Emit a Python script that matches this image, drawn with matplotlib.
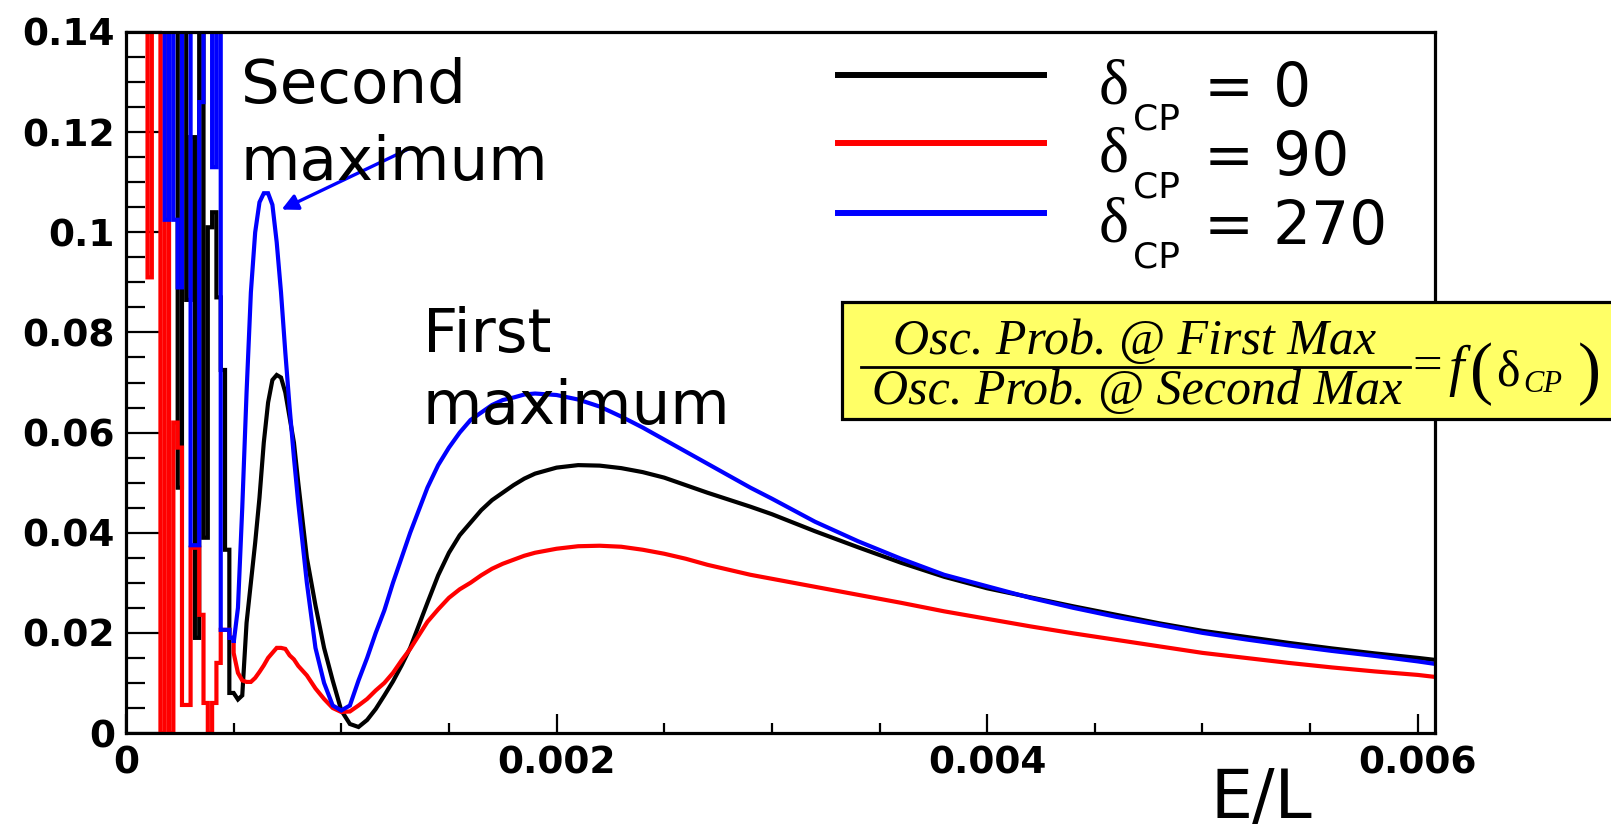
import numpy as np
import matplotlib
matplotlib.use("Agg")
import matplotlib.pyplot as plt
from matplotlib.patches import Rectangle
from matplotlib.lines import Line2D

# ---------------- data ----------------
# fast-oscillation region: histogram bins of width 2e-5 from 0 to 5e-4 (values > 0.14 are off-scale)
bin_width = 0.00002
n_osc_bins = 25
black_osc = [0.2, 0.2, 0.2, 0.2, 0.2, 0.2, 0.2, 0.2, 0.2, 0.2, 0.2, 0.2,
             0.049, 0.2, 0.0865, 0.119, 0.019, 0.2, 0.039, 0.101, 0.104, 0.087, 0.0725, 0.0366, 0.008]
red_osc = [0.2, 0.2, 0.2, 0.2, 0.2, 0.091, 0.2, 0.2, 0.0, 0.2, 0.0, 0.062, 0.057,
           0.0056, 0.0056, 0.037, 0.037, 0.0236, 0.006, 0.0, 0.006, 0.014, 0.0206, 0.0206, 0.019]
blue_osc = [0.2, 0.2, 0.2, 0.2, 0.2, 0.2, 0.2, 0.2, 0.2, 0.1025, 0.2, 0.1025, 0.089,
            0.2, 0.2, 0.0375, 0.0375, 0.126, 0.2, 0.2, 0.113, 0.2, 0.0206, 0.0206, 0.019]

# smooth region
el_smooth = [0.00050, 0.00052, 0.00054, 0.00056, 0.00058, 0.00060, 0.00062, 0.00064,
             0.00066, 0.00068, 0.00070, 0.00072, 0.00074, 0.00076, 0.00078, 0.00080,
             0.00084, 0.00088, 0.00092, 0.00096, 0.00100, 0.00104, 0.00108, 0.00112,
             0.00116, 0.00120, 0.00124, 0.00128, 0.00132, 0.00136, 0.00140, 0.00145,
             0.0015, 0.00155, 0.0016, 0.00165, 0.0017, 0.00175, 0.0018, 0.00185,
             0.0019, 0.0020, 0.0021, 0.0022,
             0.0023, 0.0024, 0.0025, 0.0026, 0.0027, 0.0028, 0.0029, 0.0030,
             0.0032, 0.0034, 0.0036, 0.0038, 0.0040, 0.0042, 0.0044, 0.0046,
             0.0048, 0.0050, 0.0052, 0.0054, 0.0056, 0.0058, 0.0060, 0.00608]
black_smooth = [0.008, 0.0067, 0.0075, 0.022, 0.030, 0.038, 0.047, 0.058,
                0.066, 0.0705, 0.0715, 0.071, 0.068, 0.063, 0.058, 0.050,
                0.035, 0.0255, 0.017, 0.0105, 0.0045, 0.0018, 0.0012, 0.0026,
                0.0048, 0.0075, 0.0103, 0.0135, 0.017, 0.0215, 0.026, 0.0315,
                0.036, 0.0395, 0.042, 0.0445, 0.0465, 0.048, 0.0495, 0.0508,
                0.0518, 0.053, 0.0535, 0.0534,
                0.0529, 0.0521, 0.051, 0.0495, 0.048, 0.0466, 0.0452, 0.0437,
                0.0403, 0.0371, 0.034, 0.0312, 0.0289, 0.0271, 0.0253, 0.0236,
                0.0219, 0.0204, 0.0192, 0.018, 0.0169, 0.0159, 0.015, 0.0146]
red_smooth = [0.016, 0.012, 0.0105, 0.0102, 0.0102, 0.011, 0.0122, 0.0135,
              0.015, 0.016, 0.017, 0.017, 0.0168, 0.0155, 0.0147, 0.0134,
              0.0115, 0.0089, 0.0068, 0.005, 0.0042, 0.0043, 0.0055, 0.0068,
              0.0085, 0.010, 0.012, 0.0145, 0.0168, 0.0195, 0.0222, 0.0247,
              0.027, 0.0287, 0.030, 0.0315, 0.0328, 0.0338, 0.0346, 0.0354,
              0.036, 0.0368, 0.0373, 0.0374,
              0.0372, 0.0366, 0.0358, 0.0348, 0.0336, 0.0326, 0.0316, 0.0308,
              0.0292, 0.0276, 0.026, 0.0243, 0.0228, 0.0213, 0.0199, 0.0186,
              0.0173, 0.016, 0.015, 0.014, 0.0131, 0.0123, 0.0116, 0.0112]
blue_smooth = [0.018, 0.025, 0.045, 0.068, 0.088, 0.100, 0.106, 0.1078,
               0.1078, 0.1055, 0.098, 0.088, 0.076, 0.065, 0.055, 0.046,
               0.030, 0.017, 0.010, 0.0055, 0.0045, 0.0055, 0.0105, 0.015,
               0.020, 0.0245, 0.030, 0.035, 0.040, 0.0445, 0.049, 0.0535,
               0.057, 0.060, 0.0625, 0.064, 0.0655, 0.0665, 0.067, 0.0676,
               0.0678, 0.0675, 0.0666, 0.0652,
               0.0632, 0.061, 0.0586, 0.0562, 0.0538, 0.0514, 0.049, 0.0468,
               0.0422, 0.0383, 0.0348, 0.0316, 0.0293, 0.027, 0.025, 0.0232,
               0.0216, 0.020, 0.0187, 0.0175, 0.0164, 0.0154, 0.0143, 0.0138]

legend_labels = ["0", "90", "270"]
series_colors = ["#000000", "#FF0000", "#0000FF"]
x_ticks = [0, 0.002, 0.004, 0.006]
x_ticklabels = ["0", "0.002", "0.004", "0.006"]
y_ticks = [0, 0.02, 0.04, 0.06, 0.08, 0.1, 0.12, 0.14]
y_ticklabels = ["0", "0.02", "0.04", "0.06", "0.08", "0.1", "0.12", "0.14"]

# ---------------- figure ----------------
W, H = 1611, 833
fig = plt.figure(figsize=(W / 100, H / 100), dpi=100)
fig.patch.set_facecolor("white")


def fx(px):
    return px / W


def fy(py):
    return 1 - py / H


ax = fig.add_axes([fx(126), fy(733), (1435 - 126) / W, (733 - 32) / H])

osc_edges = np.arange(n_osc_bins + 1) * bin_width


def build(vals_osc, vals_smooth):
    xs = np.repeat(osc_edges, 2)[1:-1]
    ys = np.repeat(np.asarray(vals_osc), 2)
    return np.concatenate([xs, el_smooth]), np.concatenate([ys, vals_smooth])


curves = [build(black_osc, black_smooth), build(red_osc, red_smooth), build(blue_osc, blue_smooth)]
for (xx, yy), c in zip(curves, series_colors):
    ax.plot(xx, yy, color=c, lw=3.0, solid_joinstyle="miter")

ax.set_xlim(0, 0.00608)
ax.set_ylim(0, 0.14)

for s in ax.spines.values():
    s.set_linewidth(2.3)

ax.set_xticks(x_ticks)
ax.set_xticklabels(x_ticklabels)
ax.set_yticks(y_ticks)
ax.set_yticklabels(y_ticklabels)
ax.set_xticks(np.arange(0, 0.0061, 0.0005), minor=True)
ax.set_yticks(np.arange(0, 0.1401, 0.005), minor=True)
ax.tick_params(axis="x", which="major", direction="in", length=14, width=1.6, pad=9)
ax.tick_params(axis="x", which="minor", direction="in", length=7.5, width=1.6)
ax.tick_params(axis="y", which="major", direction="in", length=26, width=1.6, pad=8)
ax.tick_params(axis="y", which="minor", direction="in", length=14, width=1.6)
for lab in ax.get_xticklabels() + ax.get_yticklabels():
    lab.set_fontfamily("DejaVu Sans")
    lab.set_fontweight("bold")
    lab.set_fontsize(27)

# arrow for the second maximum
ax.annotate("", xy=(0.000711, 0.1043), xytext=(0.001330, 0.1170),
            arrowprops=dict(arrowstyle="-|>", color="#0000FF", lw=2.4, mutation_scale=24),
            annotation_clip=False)

# annotations
big = dict(family="DejaVu Sans", fontsize=44, va="baseline", ha="left")
fig.text(fx(241), fy(103), "Second", **big)
fig.text(fx(241), fy(180), "maximum", **big)
fig.text(fx(423), fy(352), "First", **big)
fig.text(fx(423), fy(424), "maximum", **big)

fig.text(fx(1312), fy(832), "E/L", family="DejaVu Sans", fontsize=48, ha="right", va="bottom")

# legend
row_y = [75, 143, 213]
num_base = [106, 175, 244]
for i in range(3):
    fig.add_artist(Line2D([fx(838), fx(1044)], [fy(row_y[i])] * 2, color=series_colors[i],
                          lw=4.3, transform=fig.transFigure))
    fig.text(fx(1099), fy(num_base[i] - 3), "δ", family="Liberation Serif", fontsize=46,
             va="baseline", ha="left")
    fig.text(fx(1133), fy(num_base[i] + 23), "CP", family="DejaVu Sans", fontsize=26,
             va="baseline", ha="left")
    fig.text(fx(1204), fy(num_base[i]), "= " + legend_labels[i], family="DejaVu Sans",
             fontsize=43, va="baseline", ha="left")

# yellow formula box
fig.add_artist(Rectangle((fx(842), fy(419)), fx(1640) - fx(842), (419 - 302) / H,
                         transform=fig.transFigure, facecolor="#FFFF66", edgecolor="black",
                         lw=2.3, zorder=5))
ser = dict(family="Liberation Serif", zorder=6, va="baseline")
fig.text(fx(1135), fy(354), "Osc. Prob. @ First Max", ha="center", style="italic", fontsize=36, **ser)
fig.text(fx(1137), fy(404), "Osc. Prob. @ Second Max", ha="center", style="italic", fontsize=36, **ser)
fig.add_artist(Line2D([fx(861), fx(1410)], [fy(367)] * 2, color="black", lw=2.0,
                      transform=fig.transFigure, zorder=6))
fig.text(fx(1412), fy(381), "=", ha="left", fontsize=38, **ser)
fig.text(fx(1448), fy(385), "f", ha="left", style="italic", fontsize=40, **ser)
fig.text(fx(1470), fy(391), "(", ha="left", fontsize=50, **ser)
fig.text(fx(1496), fy(385), "δ", ha="left", fontsize=36, **ser)
fig.text(fx(1523), fy(392), "CP", ha="left", style="italic", fontsize=22, **ser)
fig.text(fx(1578), fy(391), ")", ha="left", fontsize=50, **ser)

fig.savefig("out.png", dpi=100)
